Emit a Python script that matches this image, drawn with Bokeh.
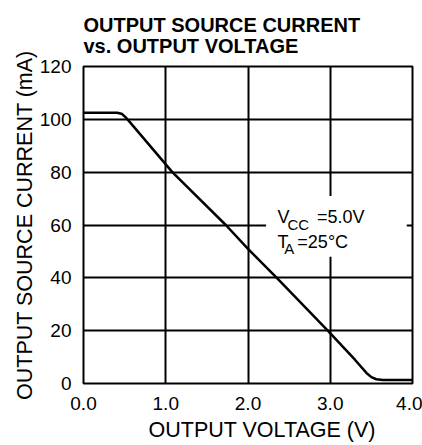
from bokeh.plotting import figure
from bokeh.models import Title, Label, BoxAnnotation, FixedTicker, Range1d, CustomJSTickFormatter
from bokeh.embed import file_html
from bokeh.resources import INLINE

# Data
vout = [0.0, 0.41, 0.47, 0.51, 0.535, 0.60, 1.08, 1.73, 2.00, 2.35, 2.97, 3.30, 3.44, 3.50, 3.56, 3.64, 4.00]
isrc = [102.5, 102.5, 102.0, 100.8, 100.0, 97.6, 80.0, 60.0, 51.0, 40.0, 20.0, 9.0, 4.0, 2.4, 1.6, 1.3, 1.3]
x_ticks = [0.0, 1.0, 2.0, 3.0, 4.0]
y_ticks = [0, 20, 40, 60, 80, 100, 120]
title_lines = ["OUTPUT SOURCE CURRENT", "vs. OUTPUT VOLTAGE"]
x_label = "OUTPUT VOLTAGE (V)"
y_label = "OUTPUT SOURCE CURRENT (mA)"

FONT = "Liberation Sans"

p = figure(width=422, height=445, output_backend="svg", toolbar_location=None,
           x_range=Range1d(0, 4), y_range=Range1d(0, 120),
           min_border_left=83, min_border_right=10, min_border_top=66, min_border_bottom=62,
           title="\n".join(title_lines))
p.background_fill_color = "white"
p.border_fill_color = "white"
p.outline_line_color = "black"
p.outline_line_width = 2

p.title.text_font = FONT
p.title.text_font_size = "20px"
p.title.text_font_style = "bold"
p.title.text_color = "black"
p.title.text_line_height = 0.95
p.title.align = "left"
p.title.standoff = 19

for ax in (p.xaxis[0], p.yaxis[0]):
    ax.axis_line_color = None
    ax.major_tick_line_color = None
    ax.minor_tick_line_color = None
    ax.major_label_text_font = FONT
    ax.major_label_text_font_size = "19px"
    ax.major_label_text_color = "black"
    ax.axis_label_text_font = FONT
    ax.axis_label_text_font_size = "21.5px"
    ax.axis_label_text_font_style = "normal"
    ax.axis_label_text_color = "black"

p.xaxis.ticker = FixedTicker(ticks=x_ticks)
p.yaxis.ticker = FixedTicker(ticks=y_ticks)
p.xaxis.formatter = CustomJSTickFormatter(code="return tick.toFixed(1);")
p.yaxis.formatter = CustomJSTickFormatter(code="return tick.toFixed(0);")
p.yaxis.axis_label = y_label
p.xaxis.major_label_standoff = 7
p.yaxis.major_label_standoff = 6
p.yaxis.axis_label_standoff = 0

# x-axis title placed below, shifted right as in the reference
p.add_layout(Title(text=x_label, text_font=FONT, text_font_size="21.5px",
                   text_font_style="normal", text_color="black", align="left",
                   offset=65, standoff=7), "below")

for g in (p.xgrid[0], p.ygrid[0]):
    g.grid_line_color = "black"
    g.grid_line_width = 2
    g.grid_line_alpha = 1.0
p.xgrid.ticker = FixedTicker(ticks=x_ticks)
p.ygrid.ticker = FixedTicker(ticks=y_ticks)

p.line(vout, isrc, line_color="black", line_width=2.5)

# white box behind the condition text
p.add_layout(BoxAnnotation(left=2.22, right=3.93, bottom=48, top=71,
                           fill_color="white", fill_alpha=1.0, line_color=None))

def lab(x, y, t, size):
    p.add_layout(Label(x=x, y=y, text=t, text_font=FONT, text_font_size=size,
                       text_color="black", text_baseline="alphabetic", text_align="left"))

lab(2.36, 62.9, "V", "18px")
lab(2.48, 60.3, "CC", "15px")
lab(2.84, 62.9, "=5.0V", "18px")
lab(2.36, 53.4, "T", "18px")
lab(2.44, 51.0, "A", "15px")
lab(2.60, 53.4, "=25\u00b0C", "18px")

open("out.html", "w").write(file_html(p, INLINE))
